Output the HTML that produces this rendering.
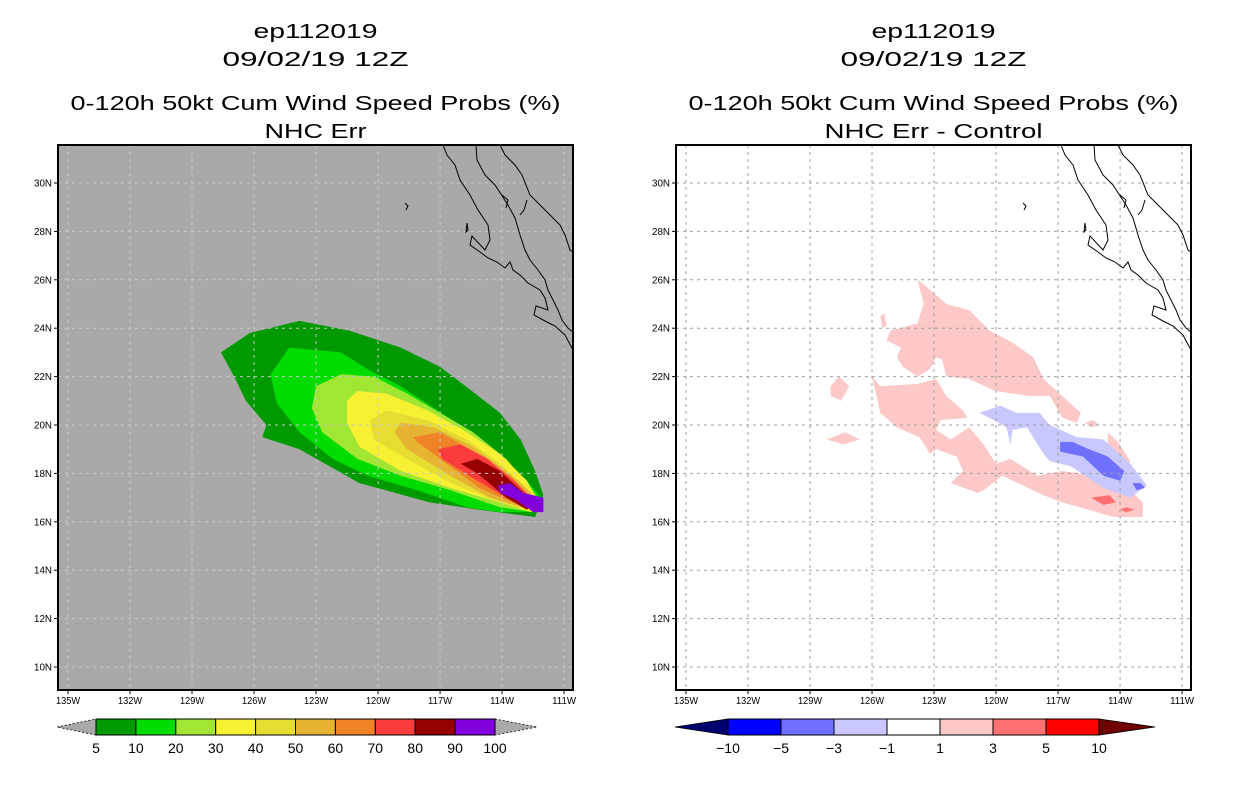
<!DOCTYPE html>
<html><head><meta charset="utf-8"><style>
html,body{margin:0;padding:0;background:#fff;}
svg{display:block;font-family:"Liberation Sans",sans-serif;}
</style></head><body>
<svg id="root" width="1236" height="800" viewBox="0 0 1236 800"></svg>
<script>
// ---- data ----
const lonTicks = [-135,-132,-129,-126,-123,-120,-117,-114,-111];
const lonTickLabels = ["135W","132W","129W","126W","123W","120W","117W","114W","111W"];
const latTicks = [10,12,14,16,18,20,22,24,26,28,30];
const latTickLabels = ["10N","12N","14N","16N","18N","20N","22N","24N","26N","28N","30N"];
const probLevels = [5,10,20,30,40,50,60,70,80,90,100];
const probColors = ["#009a00","#00dc00","#a0e632","#f8f032","#e6dc32","#e6b432","#f08228","#fa3c3c","#960000","#8200dc"];
const diffLevels = ["-10","-5","-3","-1","1","3","5","10"];
const diffColors = ["#0000ff","#7070ff","#c8c8ff","#ffffff","#fcc8c8","#ff7070","#ff0000"];
const probContours = [
 [[-127.6,23.0],[-126.2,23.8],[-123.8,24.3],[-121.4,23.9],[-118.9,23.2],[-117.0,22.4],[-115.6,21.5],[-114.1,20.5],[-113.1,19.4],[-112.4,18.1],[-112.0,17.1],[-112.4,16.2],[-115.1,16.5],[-117.5,16.8],[-120.9,17.6],[-123.8,19.0],[-125.6,19.5],[-125.4,20.0],[-126.4,21.0],[-126.9,21.9]],
 [[-124.3,23.2],[-121.8,23.0],[-120.5,22.3],[-118.9,21.6],[-117.3,20.7],[-115.7,19.8],[-114.1,18.8],[-112.8,17.7],[-112.0,16.9],[-112.3,16.4],[-114.1,16.4],[-115.7,16.6],[-118.1,17.3],[-120.5,17.9],[-122.2,18.6],[-123.8,19.7],[-124.9,20.9],[-125.2,22.1]],
 [[-121.8,22.1],[-120.2,22.0],[-118.6,21.3],[-117.0,20.5],[-115.4,19.7],[-113.8,18.6],[-112.6,17.4],[-112.2,16.9],[-112.5,16.4],[-114.1,16.6],[-116.5,17.3],[-118.9,17.9],[-121.0,18.6],[-122.7,19.7],[-123.2,20.7],[-123.0,21.6]],
 [[-121.0,21.4],[-119.6,21.3],[-117.6,20.6],[-115.9,19.8],[-114.1,18.8],[-112.8,17.7],[-112.3,16.9],[-112.6,16.4],[-114.1,16.8],[-116.5,17.4],[-118.9,18.1],[-120.9,19.1],[-121.5,20.1],[-121.5,21.0]],
 [[-119.6,20.6],[-117.6,20.2],[-115.7,19.4],[-114.1,18.4],[-112.8,17.4],[-112.4,16.8],[-112.8,16.5],[-114.4,16.9],[-116.5,17.6],[-118.6,18.6],[-120.2,19.4],[-120.4,20.2]],
 [[-118.9,20.1],[-117.3,19.9],[-115.4,19.1],[-113.8,18.1],[-112.6,17.2],[-112.5,16.7],[-113.1,16.6],[-114.6,17.0],[-116.7,18.0],[-118.6,19.0],[-119.2,19.7]],
 [[-118.3,19.5],[-117.0,19.7],[-115.2,18.8],[-113.6,17.9],[-112.6,17.0],[-112.6,16.6],[-113.5,16.8],[-115.1,17.4],[-117.0,18.6],[-118.1,19.3]],
 [[-117.1,19.0],[-116.0,19.2],[-114.7,18.6],[-113.3,17.6],[-112.5,16.9],[-112.6,16.6],[-113.6,16.9],[-115.2,17.7],[-116.9,18.6]],
 [[-116.0,18.4],[-115.2,18.6],[-114.1,18.1],[-113.1,17.3],[-112.5,16.8],[-112.8,16.5],[-113.8,17.0],[-115.2,18.0]],
 [[-114.2,17.5],[-113.6,17.6],[-113.0,17.2],[-112.0,17.0],[-112.0,16.4],[-112.5,16.4],[-113.3,16.9],[-114.1,17.2]]
];
const diffPink = [
 [[-123.8,26.0],[-123.2,25.6],[-122.4,25.0],[-121.3,24.75],[-120.3,23.9],[-119.2,23.4],[-118.2,22.8],[-117.7,21.9],[-116.8,21.2],[-115.9,20.5],[-116.1,20.1],[-116.8,20.3],[-117.4,21.2],[-118.4,21.2],[-120.0,21.4],[-121.3,21.9],[-122.4,22.0],[-122.6,22.7],[-122.9,22.8],[-123.2,22.3],[-123.8,22.0],[-124.5,22.4],[-124.8,22.8],[-124.6,23.2],[-125.3,23.5],[-125.1,23.9],[-123.8,24.2],[-123.5,25.0]],
 [[-126.0,22.0],[-125.6,21.6],[-123.8,21.7],[-122.9,21.9],[-122.4,21.2],[-121.6,20.6],[-121.4,20.3],[-122.7,20.2],[-122.9,19.8],[-122.2,19.4],[-121.3,19.9],[-120.6,19.2],[-120.0,18.4],[-119.3,18.6],[-118.0,17.9],[-116.8,18.1],[-115.1,17.9],[-113.5,17.3],[-112.9,16.8],[-112.9,16.2],[-114.3,16.2],[-116.8,16.8],[-117.7,17.1],[-119.7,17.9],[-120.6,17.3],[-120.9,17.2],[-122.2,17.6],[-121.6,18.1],[-121.9,18.7],[-122.9,19.0],[-123.2,18.8],[-123.7,19.5],[-124.8,19.9],[-125.6,20.5]],
 [[-128.0,21.6],[-127.6,22.0],[-127.1,21.6],[-127.5,21.0],[-128.0,21.2]],
 [[-128.2,19.4],[-127.3,19.7],[-126.6,19.4],[-127.4,19.2]],
 [[-115.7,20.1],[-115.3,20.2],[-115.0,20.0],[-115.4,19.9]],
 [[-114.6,19.7],[-114.1,19.3],[-113.5,18.5],[-113.7,18.3],[-114.2,18.7],[-114.6,19.2]],
 [[-125.6,24.5],[-125.4,24.6],[-125.3,24.1],[-125.5,24.0]]
];
const diffLightBlue = [
 [[-120.8,20.5],[-119.8,20.8],[-119.0,20.5],[-117.9,20.5],[-117.4,20.0],[-116.1,19.5],[-114.8,19.4],[-113.5,18.4],[-112.7,17.5],[-113.5,17.0],[-114.8,17.4],[-116.4,18.3],[-117.4,18.5],[-117.7,18.8],[-118.5,19.9],[-119.2,19.8],[-119.3,19.2],[-119.5,19.9],[-120.1,20.2]]
];
const diffBlue = [
 [[-116.9,19.3],[-116.3,19.3],[-115.5,19.0],[-114.6,18.7],[-113.8,18.1],[-114.0,17.7],[-114.8,17.9],[-115.3,18.3],[-115.8,18.7],[-116.9,18.9]],
 [[-113.4,17.6],[-113.0,17.6],[-112.8,17.4],[-113.2,17.3]]
];
const diffRed = [
 [[-115.4,17.0],[-114.5,17.1],[-114.2,16.8],[-114.8,16.7]],
 [[-114.0,16.5],[-113.7,16.6],[-113.3,16.5],[-113.7,16.4]]
];
// ---- drawing ----
const NS="http://www.w3.org/2000/svg";
const root=document.getElementById('root');
function el(tag,attrs,parent){const e=document.createElementNS(NS,tag);for(const k in attrs)e.setAttribute(k,attrs[k]);(parent||root).appendChild(e);return e;}
function txt(s,x,y,size,anchor,parent,tl){const t=el('text',{x:x,y:y,'font-size':size,'text-anchor':anchor||'middle',fill:'#000'},parent);if(tl){t.setAttribute('textLength',tl);t.setAttribute('lengthAdjust','spacingAndGlyphs');}t.textContent=s;return t;}
const coast="M443,145 L447,155 L455,165 L460,180 L470,195 L478,210 L488,225 L490,240 L485,250 L472,236 L470,245 L480,252 L488,258 L497,262 L505,268 L510,262 L513,270 L520,275 L528,283 L540,290 L545,298 L548,310 L536,306 L534,315 L545,321 L555,326 L565,335 L573,350 M476,145 L477,160 L485,175 L495,185 L508,205 L515,218 L520,235 L525,250 L530,260 L538,270 L545,280 L548,290 L553,300 L558,310 L562,320 L568,328 L573,332 M500,145 L505,155 L515,165 L522,175 L530,195 L540,205 L550,215 L560,225 L565,235 L570,250 L573,252 M502,195 L508,200 L506,208 M527,200 L524,210 L520,215 M405,203 L408,206 L406,210 M467,223 L468,230 L466,232 Z";
function panel(ox,isProb,title2,name){
  const g=el('g',{},root);
  
  
  const X0=ox, X1=ox+515, Y0=145, Y1=690;
  const px=lon=>ox+10+(lon+135)*20.67;
  const py=lat=>183+(30-lat)*24.2;
  const cx=(ox+X1)/2;
  const t1=txt('ep112019',cx,38,20,'middle',g,124);  
  const t2=txt('09/02/19 12Z',cx,66,20,'middle',g,186);  
  const t3=txt('0-120h 50kt Cum Wind Speed Probs (%)',cx,110,20,'middle',g,490);  
  const t4=txt(title2,cx,138,20,'middle',g,isProb?102:218);  
  const bg=el('rect',{x:X0,y:Y0,width:515,height:545,fill:isProb?'#a9a9a9':'#ffffff'},g);
   
  const cp='clip'+ox; const cd=el('clipPath',{id:cp},g); el('rect',{x:X0,y:Y0,width:515,height:545},cd);
  const mg=el('g',{'clip-path':'url(#'+cp+')'},g);
  const poly=(pts,fill,nm)=>{const p=el('polygon',{points:pts.map(q=>px(q[0]).toFixed(1)+','+py(q[1]).toFixed(1)).join(' '),fill:fill},mg);};
  if(isProb){probContours.forEach((c,i)=>poly(c,probColors[i],'prob-contour-'+probLevels[i]));}
  else{diffPink.forEach(c=>poly(c,diffColors[4],'diff-contour-pos-1'));diffLightBlue.forEach(c=>poly(c,diffColors[2],'diff-contour-neg-1'));diffBlue.forEach(c=>poly(c,diffColors[1],'diff-contour-neg-3'));diffRed.forEach(c=>poly(c,diffColors[5],'diff-contour-pos-3'));}
  const gridCol=isProb?'#c8c8c8':'#a0a0a0';
  lonTicks.forEach(l=>{const x=px(l);const ln=el('line',{x1:x,x2:x,y1:Y0,y2:Y1,stroke:gridCol,'stroke-width':1,'stroke-dasharray':'3,4'},mg);});
  latTicks.forEach(l=>{const y=py(l);const ln=el('line',{x1:X0,x2:X1,y1:y,y2:y,stroke:gridCol,'stroke-width':1,'stroke-dasharray':'3,4'},mg);});
  const cst=el('path',{d:coast,fill:'none',stroke:'#000','stroke-width':1,transform:'translate('+(ox-58)+',0)'},mg);
   
  const fr=el('rect',{x:X0,y:Y0,width:515,height:545,fill:'none',stroke:'#000','stroke-width':2},g);
   
  lonTicks.forEach((l,i)=>{const x=px(l);el('line',{x1:x,x2:x,y1:Y1,y2:Y1+4,stroke:'#000'},g);const t=txt(lonTickLabels[i],x,704,10,'middle',g,i==0?24:24);});
  latTicks.forEach((l,i)=>{const y=py(l);el('line',{x1:X0-4,x2:X0,y1:y,y2:y,stroke:'#000'},g);const t=txt(latTickLabels[i],X0-6,y+3.5,10,'end',g,18);});
  // colorbar
  const cb=el('g',{},g);  
  if(isProb){
    const bx=96,bw=39.9,y0=719,h=16;
    el('polygon',{points:`57,727 ${bx},${y0} ${bx},${y0+h}`,fill:'#a9a9a9',stroke:'#000','stroke-dasharray':'2,2','stroke-width':0.8},cb);
    el('polygon',{points:`${bx+10*bw},${y0} ${bx+10*bw+42},727 ${bx+10*bw},${y0+h}`,fill:'#a9a9a9',stroke:'#000','stroke-dasharray':'2,2','stroke-width':0.8},cb);
    probColors.forEach((c,i)=>{const r=el('rect',{x:bx+i*bw,y:y0,width:bw,height:h,fill:c,stroke:'#000','stroke-width':1},cb);});
    probLevels.forEach((v,i)=>{const t=txt(String(v),bx+i*bw,753,14,'middle',cb);});
  } else {
    const bx=728,bw=53,y0=719,h=16;
    el('polygon',{points:`675,727 ${bx},${y0} ${bx},${y0+h}`,fill:'#00006e',stroke:'#000','stroke-width':0.8},cb);
    el('polygon',{points:`${bx+7*bw},${y0} ${bx+7*bw+56},727 ${bx+7*bw},${y0+h}`,fill:'#700000',stroke:'#000','stroke-width':0.8},cb);
    diffColors.forEach((c,i)=>{const r=el('rect',{x:bx+i*bw,y:y0,width:bw,height:h,fill:c,stroke:'#000','stroke-width':1},cb);});
    diffLevels.forEach((v,i)=>{const t=txt(v.replace('-','\u2212'),bx+i*bw,753,14,'middle',cb);});
  }
}
panel(58,true,'NHC Err','left-panel-probabilities');
panel(676,false,'NHC Err - Control','right-panel-difference');
</script>
</body></html>
